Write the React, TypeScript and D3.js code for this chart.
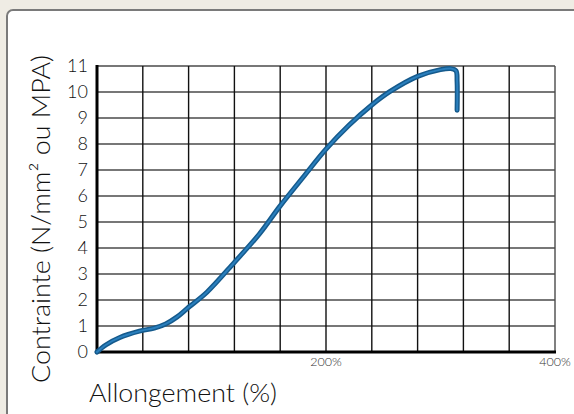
import React from "react";
import * as d3 from "d3";

const elongation = [0, 8, 20, 37, 50, 60, 70, 80, 96, 120, 142, 160, 180, 200, 220, 240, 256, 280, 300, 309, 313.5, 314.5, 314.5];
const stress = [0, 0.28, 0.56, 0.8, 0.92, 1.08, 1.35, 1.72, 2.3, 3.45, 4.55, 5.62, 6.72, 7.8, 8.72, 9.5, 10.02, 10.6, 10.86, 10.9, 10.82, 10.4, 9.3];
const yTicks = [0, 1, 2, 3, 4, 5, 6, 7, 8, 9, 10, 11];
const xGrid = [0, 40, 80, 120, 160, 200, 240, 280, 320, 360, 400];
const xTickLabels = [200, 400];

const W = 574;
const H = 414;
const FONT = "Lato, 'Open Sans', sans-serif";

export default function App() {
  const x = d3.scaleLinear().domain([0, 400]).range([97, 555]);
  const y = d3.scaleLinear().domain([0, 11]).range([352, 66]);
  const pts: [number, number][] = elongation.map((e, i) => [e, stress[i]]);
  const line = d3
    .line<[number, number]>()
    .x((d) => x(d[0]))
    .y((d) => y(d[1]))
    .curve(d3.curveCatmullRom.alpha(0.5));
  const d = line(pts) || "";

  return (
    <svg
      width={W}
      height={H}
      style={{ position: "absolute", left: 0, top: 0, background: "#efece4" }}
    >
      <rect x={7} y={10} width={600} height={440} rx={6} fill="#ffffff" stroke="#7a7a7a" strokeWidth={2} />
      {yTicks.map((t) => (
        <line key={"h" + t} x1={x(0)} x2={x(400)} y1={y(t)} y2={y(t)} stroke="#4a4a4a" strokeWidth={1.6} />
      ))}
      {xGrid.map((t) => (
        <line key={"v" + t} x1={x(t)} x2={x(t)} y1={y(11)} y2={y(0)} stroke={t === 400 ? "#4a4a4a" : "#111"} strokeWidth={1.4} />
      ))}
      <line x1={x(0)} x2={x(0)} y1={y(11) - 1} y2={y(0) + 1.5} stroke="#000" strokeWidth={3} />
      <line x1={x(0) - 1.5} x2={x(400) + 1} y1={y(0)} y2={y(0)} stroke="#000" strokeWidth={3} />
      {yTicks.map((t) => (
        <text key={"yl" + t} x={88} y={y(t)} dy="0.36em" textAnchor="end" fontFamily={FONT} fontWeight={300} fontSize={18} fill="#111">
          {t}
        </text>
      ))}
      {xTickLabels.map((t) => (
        <text key={"xl" + t} x={x(t)} y={366} textAnchor="middle" fontFamily={FONT} fontWeight={300} fontSize={12.5} fill="#333">
          {t + "%"}
        </text>
      ))}
      <path d={d} fill="none" stroke="#155a8c" strokeWidth={5} strokeLinecap="round" strokeLinejoin="round" />
      <path d={d} fill="none" stroke="#2a7fbd" strokeWidth={2} strokeLinecap="round" strokeLinejoin="round" />
      <text
        transform={`translate(50,219) rotate(-90)`}
        textAnchor="middle"
        fontFamily={FONT}
        fontWeight={300}
        fontSize={25}
        textLength={328}
        lengthAdjust="spacingAndGlyphs"
        fill="#111"
      >
        Contrainte (N/mm² ou MPA)
      </text>
      <text
        x={89}
        y={402}
        fontFamily={FONT}
        fontWeight={300}
        fontSize={26}
        textLength={188}
        lengthAdjust="spacingAndGlyphs"
        fill="#111"
      >
        Allongement (%)
      </text>
    </svg>
  );
}
